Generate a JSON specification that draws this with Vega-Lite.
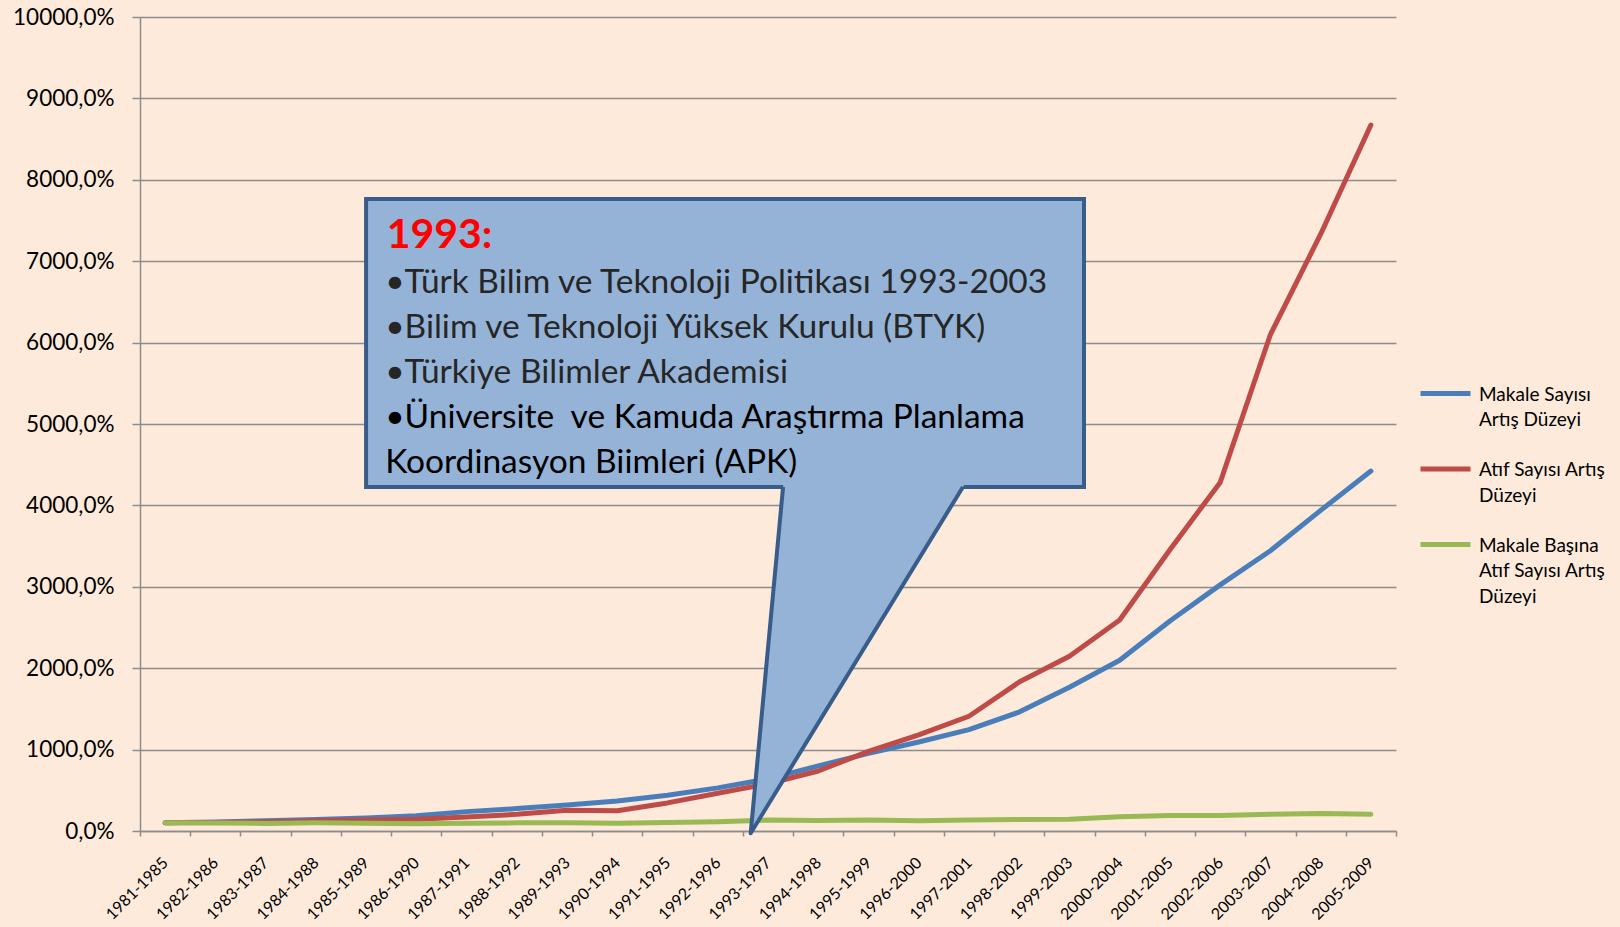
{
  "$schema": "https://vega.github.io/schema/vega-lite/v6.json",
  "width": 1256,
  "height": 814,
  "autosize": {"type": "none"},
  "padding": {"left": 140, "top": 17, "right": 224, "bottom": 96},
  "background": "#FDEADA",
  "config": {"view": {"stroke": null}, "font": "Lato"},
  "resolve": {"scale": {"x": "independent"}},
  "layer": [
    {
      "data": {"values": [
        {"donem": "1981-1985", "seri": "Makale Sayısı Artış Düzeyi", "deger": 100},
        {"donem": "1982-1986", "seri": "Makale Sayısı Artış Düzeyi", "deger": 112},
        {"donem": "1983-1987", "seri": "Makale Sayısı Artış Düzeyi", "deger": 125},
        {"donem": "1984-1988", "seri": "Makale Sayısı Artış Düzeyi", "deger": 140},
        {"donem": "1985-1989", "seri": "Makale Sayısı Artış Düzeyi", "deger": 160},
        {"donem": "1986-1990", "seri": "Makale Sayısı Artış Düzeyi", "deger": 188},
        {"donem": "1987-1991", "seri": "Makale Sayısı Artış Düzeyi", "deger": 238},
        {"donem": "1988-1992", "seri": "Makale Sayısı Artış Düzeyi", "deger": 275},
        {"donem": "1989-1993", "seri": "Makale Sayısı Artış Düzeyi", "deger": 320},
        {"donem": "1990-1994", "seri": "Makale Sayısı Artış Düzeyi", "deger": 369},
        {"donem": "1991-1995", "seri": "Makale Sayısı Artış Düzeyi", "deger": 440},
        {"donem": "1992-1996", "seri": "Makale Sayısı Artış Düzeyi", "deger": 530},
        {"donem": "1993-1997", "seri": "Makale Sayısı Artış Düzeyi", "deger": 640},
        {"donem": "1994-1998", "seri": "Makale Sayısı Artış Düzeyi", "deger": 800},
        {"donem": "1995-1999", "seri": "Makale Sayısı Artış Düzeyi", "deger": 953},
        {"donem": "1996-2000", "seri": "Makale Sayısı Artış Düzeyi", "deger": 1093},
        {"donem": "1997-2001", "seri": "Makale Sayısı Artış Düzeyi", "deger": 1245},
        {"donem": "1998-2002", "seri": "Makale Sayısı Artış Düzeyi", "deger": 1461},
        {"donem": "1999-2003", "seri": "Makale Sayısı Artış Düzeyi", "deger": 1766},
        {"donem": "2000-2004", "seri": "Makale Sayısı Artış Düzeyi", "deger": 2097},
        {"donem": "2001-2005", "seri": "Makale Sayısı Artış Düzeyi", "deger": 2580},
        {"donem": "2002-2006", "seri": "Makale Sayısı Artış Düzeyi", "deger": 3024},
        {"donem": "2003-2007", "seri": "Makale Sayısı Artış Düzeyi", "deger": 3443},
        {"donem": "2004-2008", "seri": "Makale Sayısı Artış Düzeyi", "deger": 3939},
        {"donem": "2005-2009", "seri": "Makale Sayısı Artış Düzeyi", "deger": 4422},
        {"donem": "1981-1985", "seri": "Atıf Sayısı Artış Düzeyi", "deger": 100},
        {"donem": "1982-1986", "seri": "Atıf Sayısı Artış Düzeyi", "deger": 105},
        {"donem": "1983-1987", "seri": "Atıf Sayısı Artış Düzeyi", "deger": 112},
        {"donem": "1984-1988", "seri": "Atıf Sayısı Artış Düzeyi", "deger": 125},
        {"donem": "1985-1989", "seri": "Atıf Sayısı Artış Düzeyi", "deger": 135},
        {"donem": "1986-1990", "seri": "Atıf Sayısı Artış Düzeyi", "deger": 145},
        {"donem": "1987-1991", "seri": "Atıf Sayısı Artış Düzeyi", "deger": 172},
        {"donem": "1988-1992", "seri": "Atıf Sayısı Artış Düzeyi", "deger": 205},
        {"donem": "1989-1993", "seri": "Atıf Sayısı Artış Düzeyi", "deger": 254},
        {"donem": "1990-1994", "seri": "Atıf Sayısı Artış Düzeyi", "deger": 248},
        {"donem": "1991-1995", "seri": "Atıf Sayısı Artış Düzeyi", "deger": 345},
        {"donem": "1992-1996", "seri": "Atıf Sayısı Artış Düzeyi", "deger": 463},
        {"donem": "1993-1997", "seri": "Atıf Sayısı Artış Düzeyi", "deger": 580},
        {"donem": "1994-1998", "seri": "Atıf Sayısı Artış Düzeyi", "deger": 737},
        {"donem": "1995-1999", "seri": "Atıf Sayısı Artış Düzeyi", "deger": 978},
        {"donem": "1996-2000", "seri": "Atıf Sayısı Artış Düzeyi", "deger": 1182},
        {"donem": "1997-2001", "seri": "Atıf Sayısı Artış Düzeyi", "deger": 1410},
        {"donem": "1998-2002", "seri": "Atıf Sayısı Artış Düzeyi", "deger": 1830},
        {"donem": "1999-2003", "seri": "Atıf Sayısı Artış Düzeyi", "deger": 2147},
        {"donem": "2000-2004", "seri": "Atıf Sayısı Artış Düzeyi", "deger": 2592},
        {"donem": "2001-2005", "seri": "Atıf Sayısı Artış Düzeyi", "deger": 3456},
        {"donem": "2002-2006", "seri": "Atıf Sayısı Artış Düzeyi", "deger": 4282},
        {"donem": "2003-2007", "seri": "Atıf Sayısı Artış Düzeyi", "deger": 6099},
        {"donem": "2004-2008", "seri": "Atıf Sayısı Artış Düzeyi", "deger": 7332},
        {"donem": "2005-2009", "seri": "Atıf Sayısı Artış Düzeyi", "deger": 8673},
        {"donem": "1981-1985", "seri": "Makale Başına Atıf Sayısı Artış Düzeyi", "deger": 100},
        {"donem": "1982-1986", "seri": "Makale Başına Atıf Sayısı Artış Düzeyi", "deger": 97},
        {"donem": "1983-1987", "seri": "Makale Başına Atıf Sayısı Artış Düzeyi", "deger": 93},
        {"donem": "1984-1988", "seri": "Makale Başına Atıf Sayısı Artış Düzeyi", "deger": 100},
        {"donem": "1985-1989", "seri": "Makale Başına Atıf Sayısı Artış Düzeyi", "deger": 95},
        {"donem": "1986-1990", "seri": "Makale Başına Atıf Sayısı Artış Düzeyi", "deger": 90},
        {"donem": "1987-1991", "seri": "Makale Başına Atıf Sayısı Artış Düzeyi", "deger": 95},
        {"donem": "1988-1992", "seri": "Makale Başına Atıf Sayısı Artış Düzeyi", "deger": 100},
        {"donem": "1989-1993", "seri": "Makale Başına Atıf Sayısı Artış Düzeyi", "deger": 100},
        {"donem": "1990-1994", "seri": "Makale Başına Atıf Sayısı Artış Düzeyi", "deger": 95},
        {"donem": "1991-1995", "seri": "Makale Başına Atıf Sayısı Artış Düzeyi", "deger": 105},
        {"donem": "1992-1996", "seri": "Makale Başına Atıf Sayısı Artış Düzeyi", "deger": 115},
        {"donem": "1993-1997", "seri": "Makale Başına Atıf Sayısı Artış Düzeyi", "deger": 135},
        {"donem": "1994-1998", "seri": "Makale Başına Atıf Sayısı Artış Düzeyi", "deger": 130},
        {"donem": "1995-1999", "seri": "Makale Başına Atıf Sayısı Artış Düzeyi", "deger": 135},
        {"donem": "1996-2000", "seri": "Makale Başına Atıf Sayısı Artış Düzeyi", "deger": 125},
        {"donem": "1997-2001", "seri": "Makale Başına Atıf Sayısı Artış Düzeyi", "deger": 135},
        {"donem": "1998-2002", "seri": "Makale Başına Atıf Sayısı Artış Düzeyi", "deger": 140},
        {"donem": "1999-2003", "seri": "Makale Başına Atıf Sayısı Artış Düzeyi", "deger": 145},
        {"donem": "2000-2004", "seri": "Makale Başına Atıf Sayısı Artış Düzeyi", "deger": 175},
        {"donem": "2001-2005", "seri": "Makale Başına Atıf Sayısı Artış Düzeyi", "deger": 190},
        {"donem": "2002-2006", "seri": "Makale Başına Atıf Sayısı Artış Düzeyi", "deger": 190},
        {"donem": "2003-2007", "seri": "Makale Başına Atıf Sayısı Artış Düzeyi", "deger": 205},
        {"donem": "2004-2008", "seri": "Makale Başına Atıf Sayısı Artış Düzeyi", "deger": 215},
        {"donem": "2005-2009", "seri": "Makale Başına Atıf Sayısı Artış Düzeyi", "deger": 205}
      ]},
      "mark": {"type": "line", "strokeWidth": 5, "strokeCap": "round", "strokeJoin": "round"},
      "encoding": {
        "x": {
          "field": "donem", "type": "ordinal", "sort": null,
          "scale": {"type": "band", "paddingInner": 0, "paddingOuter": 0},
          "bandPosition": 0.5,
          "axis": {
            "title": null, "tickBand": "extent", "grid": false,
            "labelAngle": -45, "labelAlign": "right", "labelBaseline": "middle",
            "labelFont": "Lato", "labelFontSize": 16, "labelColor": "#000000",
            "labelPadding": 24, "labelOverlap": false,
            "tickSize": 5, "tickColor": "#8c8c8c", "tickWidth": 1.5,
            "domainColor": "#8c8c8c", "domainWidth": 1.5
          }
        },
        "y": {
          "field": "deger", "type": "quantitative",
          "scale": {"domain": [0, 10000], "nice": false},
          "axis": {
            "title": null,
            "values": [0, 1000, 2000, 3000, 4000, 5000, 6000, 7000, 8000, 9000, 10000],
            "labelExpr": "replace(format(datum.value, '.1f'), '.', ',') + '%'",
            "labelFont": "Lato", "labelFontSize": 22.5, "labelColor": "#000000",
            "labelPadding": 18, "tickSize": 8, "tickColor": "#8c8c8c", "tickWidth": 1.5,
            "domainColor": "#8c8c8c", "domainWidth": 1.5,
            "grid": true, "gridColor": "#8c8c8c", "gridWidth": 1.5
          }
        },
        "color": {
          "field": "seri", "type": "nominal",
          "scale": {
            "domain": ["Makale Sayısı Artış Düzeyi", "Atıf Sayısı Artış Düzeyi", "Makale Başına Atıf Sayısı Artış Düzeyi"],
            "range": ["#4A7EBB", "#BE4B48", "#98B954"]
          },
          "legend": {
            "orient": "none", "legendX": 1278, "legendY": 349,
            "title": null, "padding": 0,
            "symbolType": "stroke", "symbolSize": 2500, "symbolStrokeWidth": 5,
            "labelFont": "Lato", "labelFontSize": 19, "labelColor": "#000000",
            "labelOffset": 6, "labelLimit": 400, "rowPadding": 11.5,
            "labelBaseline": "alphabetic",
            "labelExpr": "datum.value == 'Makale Sayısı Artış Düzeyi' ? ['Makale Sayısı', 'Artış Düzeyi'] : datum.value == 'Atıf Sayısı Artış Düzeyi' ? ['Atıf Sayısı Artış', 'Düzeyi'] : ['Makale Başına', 'Atıf Sayısı Artış', 'Düzeyi']",
            "encode": {"labels": {"update": {"lineHeight": {"value": 25.5}, "dy": {"value": 7}}}}
          }
        }
      }
    },
    {
      "data": {"values": [{}]},
      "mark": {"type": "rect", "fill": "#95B3D7", "stroke": "#385D8A", "strokeWidth": 4},
      "encoding": {
        "x": {"datum": 4.5, "type": "quantitative", "scale": {"domain": [0, 25], "nice": false, "zero": false}, "axis": null},
        "x2": {"datum": 18.79},
        "y": {"datum": 7764, "type": "quantitative", "scale": {"domain": [0, 10000], "nice": false}},
        "y2": {"datum": 4226}
      }
    },
    {
      "data": {"values": [
        {"ay": -28, "ax1": 12.155, "ax2": 12.155},
        {"ay": 4256, "ax1": 12.8045, "ax2": 16.4098}
      ]},
      "mark": {"type": "area", "orient": "horizontal", "fill": "#95B3D7"},
      "encoding": {
        "y": {"field": "ay", "type": "quantitative", "scale": {"domain": [0, 10000], "nice": false}},
        "x": {"field": "ax1", "type": "quantitative", "scale": {"domain": [0, 25], "nice": false, "zero": false}, "axis": null},
        "x2": {"field": "ax2"}
      }
    },
    {
      "data": {"values": [
        {"o": 1, "cx": 12.80, "cy": 4226},
        {"o": 2, "cx": 12.155, "cy": -28},
        {"o": 3, "cx": 16.38, "cy": 4226}
      ]},
      "mark": {"type": "line", "stroke": "#385D8A", "strokeWidth": 4, "strokeJoin": "round", "strokeCap": "butt"},
      "encoding": {
        "x": {"field": "cx", "type": "quantitative", "scale": {"domain": [0, 25], "nice": false, "zero": false}, "axis": null},
        "y": {"field": "cy", "type": "quantitative", "scale": {"domain": [0, 10000], "nice": false}},
        "order": {"field": "o"}
      }
    },
    {
      "data": {"values": [{}]},
      "mark": {"type": "text", "text": "1993:", "font": "Lato", "fontWeight": "bold", "fontSize": 41, "fill": "#FF0000", "align": "left", "baseline": "alphabetic"},
      "encoding": {
        "x": {"datum": 4.91, "type": "quantitative", "scale": {"domain": [0, 25], "nice": false, "zero": false}, "axis": null},
        "y": {"datum": 7158, "type": "quantitative", "scale": {"domain": [0, 10000], "nice": false}}
      }
    },
    {
      "data": {"values": [{}]},
      "mark": {"type": "text", "text": ["•Türk Bilim ve Teknoloji Politikası 1993-2003", "•Bilim ve Teknoloji Yüksek Kurulu (BTYK)", "•Türkiye Bilimler Akademisi"], "font": "Lato", "fontSize": 33.5, "lineHeight": 45, "fill": "#262626", "align": "left", "baseline": "alphabetic"},
      "encoding": {
        "x": {"datum": 4.88, "type": "quantitative", "scale": {"domain": [0, 25], "nice": false, "zero": false}, "axis": null},
        "y": {"datum": 6609, "type": "quantitative", "scale": {"domain": [0, 10000], "nice": false}}
      }
    },
    {
      "data": {"values": [{}]},
      "mark": {"type": "text", "text": ["•Üniversite\u00a0 ve Kamuda Araştırma Planlama", "Koordinasyon Biimleri (APK)"], "font": "Lato", "fontSize": 33.5, "lineHeight": 45, "fill": "#000000", "align": "left", "baseline": "alphabetic"},
      "encoding": {
        "x": {"datum": 4.88, "type": "quantitative", "scale": {"domain": [0, 25], "nice": false, "zero": false}, "axis": null},
        "y": {"datum": 4951, "type": "quantitative", "scale": {"domain": [0, 10000], "nice": false}}
      }
    }
  ]
}
